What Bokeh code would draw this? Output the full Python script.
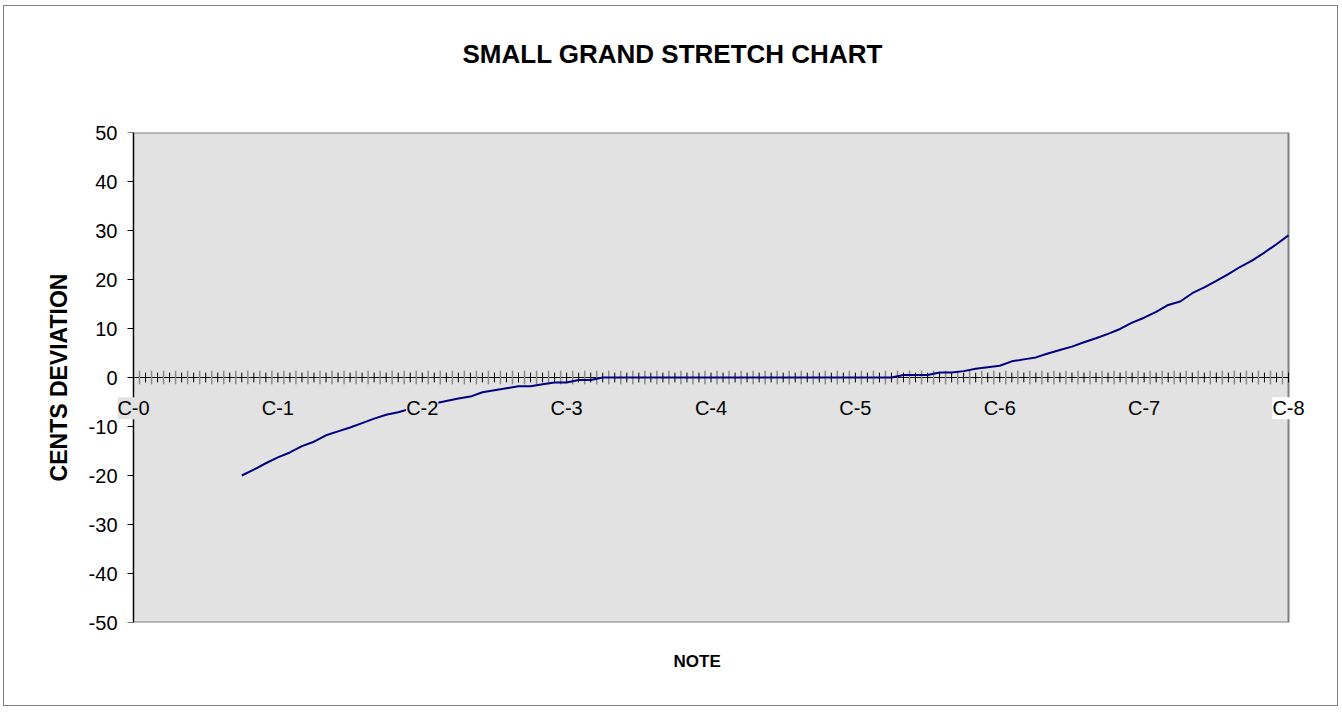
import numpy as np
from bokeh.plotting import figure
from bokeh.models import Range1d, FixedTicker, Span, ColumnDataSource, Title, Label, BoxAnnotation
from bokeh.embed import file_html
from bokeh.resources import INLINE

# ---- data (semitone index from C-0, cents deviation) ----
semitone = list(range(9, 97))
cents = [
    -20.0, -18.8, -17.5, -16.3, -15.3, -14.0, -13.1, -11.8, -11.0, -10.2,   # 9-18
    -9.3, -8.4, -7.6, -7.1, -6.4, -5.8, -5.3, -4.8, -4.3, -3.9,             # 19-28
    -3.0, -2.6, -2.2, -1.8, -1.8, -1.4, -1.0, -1.0, -0.5, -0.5,             # 29-38
    0, 0, 0, 0, 0, 0, 0, 0, 0, 0,                                           # 39-48
    0, 0, 0, 0, 0, 0, 0, 0, 0, 0,                                           # 49-58
    0, 0, 0, 0, 0,                                                          # 59-63
    0.5, 0.5, 0.5, 1.0, 1.0, 1.3, 1.8, 2.1, 2.4, 3.3,                       # 64-73
    3.7, 4.1, 4.9, 5.6, 6.3, 7.2, 8.0, 8.9, 9.9, 11.2,                      # 74-83
    12.2, 13.4, 14.8, 15.5, 17.2, 18.4, 19.7, 21.1, 22.6, 23.9,             # 84-93
    25.5, 27.2, 29.0,                                                       # 94-96
]
octave_pos = [0, 12, 24, 36, 48, 60, 72, 84, 96]
octave_labels = ["C-0", "C-1", "C-2", "C-3", "C-4", "C-5", "C-6", "C-7", "C-8"]
y_ticks = [-50, -40, -30, -20, -10, 0, 10, 20, 30, 40, 50]

FONT = "Liberation Sans"
BG = "#e2e2e2"
X0, X1 = octave_pos[0], octave_pos[-1]
Y0, Y1 = y_ticks[0], y_ticks[-1]

# plot area 1155 px wide for 96 semitones; the frame is a little wider so the
# end labels C-0 / C-8 are not cut off
PX = 1155 / (X1 - X0)
PAD_L, PAD_R = 16, 18

p = figure(width=1333, height=699, output_backend="svg", toolbar_location=None,
           x_range=Range1d(X0 - PAD_L / PX, X1 + PAD_R / PX),
           y_range=Range1d(Y0, Y1),
           x_axis_location=None,
           min_border_left=113, min_border_right=31, min_border_top=126,
           min_border_bottom=83,
           background_fill_color="white", border_fill_color="white",
           outline_line_color=None)
p.margin = (6, 0, 0, 4)
p.styles = {"outline": "1px solid #808080"}
p.grid.visible = False

# plot area
p.add_layout(BoxAnnotation(left=X0, right=X1, bottom=Y0, top=Y1, fill_color=BG,
                           fill_alpha=1, line_color="#808080", line_alpha=1,
                           line_width=2, level="underlay"))
p.add_layout(Span(location=X0, dimension="height", line_color="black", line_width=1))

# title (a blank spacer title keeps it well above the plot area)
p.add_layout(Title(text=" ", text_font_size="30px", standoff=24), "above")
p.title.text = "SMALL GRAND STRETCH CHART"
p.title.align = "left"
p.title.offset = 345
p.title.text_font = FONT
p.title.text_font_style = "bold"
p.title.text_font_size = "26px"
p.title.text_color = "black"
p.title.standoff = 10

# y axis (labels from the axis, ticks drawn at the plot-area edge)
p.yaxis.ticker = FixedTicker(ticks=y_ticks, minor_ticks=[])
p.yaxis.major_label_overrides = {t: str(t) for t in y_ticks}
p.yaxis.major_tick_in = 0
p.yaxis.major_tick_out = 0
p.yaxis.major_tick_line_color = None
p.yaxis.minor_tick_line_color = None
p.yaxis.axis_line_color = None
p.yaxis.major_label_text_font = FONT
p.yaxis.major_label_text_font_size = "20px"
p.yaxis.major_label_text_color = "black"
p.yaxis.major_label_standoff = 0
p.yaxis.axis_label = "CENTS DEVIATION"
p.yaxis.axis_label_text_font = FONT
p.yaxis.axis_label_text_font_style = "bold"
p.yaxis.axis_label_text_font_size = "23px"
p.yaxis.axis_label_text_color = "black"
p.yaxis.axis_label_standoff = 14
p.segment(x0=X0 - 6 / PX, x1=X0, y0=y_ticks, y1=y_ticks, line_color="black", line_width=1)

# x axis title
p.add_layout(Title(text="NOTE", align="left", offset=556, standoff=55,
                   text_font=FONT, text_font_style="bold", text_font_size="17px",
                   text_color="black"), "below")

# category axis drawn at zero cents
p.line(x=[X0, X1], y=[0, 0], line_color="black", line_width=1)
semi_ticks = np.arange(X0, X1 + 1, 1)
half_ticks = np.arange(X0 + 0.5, X1, 1)
p.segment(x0=half_ticks, y0=-1.4, x1=half_ticks, y1=1.4, line_color="#8a8a8a", line_width=1.5)
p.segment(x0=semi_ticks, y0=-1.0, x1=semi_ticks, y1=1.0, line_color="black", line_width=1)

# data line
src = ColumnDataSource(dict(x=semitone, y=cents))
p.line("x", "y", source=src, line_color="#000080", line_width=2)

# octave labels
for pos, lab in zip(octave_pos, octave_labels):
    p.add_layout(Label(x=pos, y=-6.3, text=lab, text_align="center",
                       text_baseline="middle", text_font=FONT,
                       text_font_size="20px", text_color="black",
                       background_fill_color="white" if pos == X1 else BG))

open("out.html", "w").write(file_html(p, INLINE))
